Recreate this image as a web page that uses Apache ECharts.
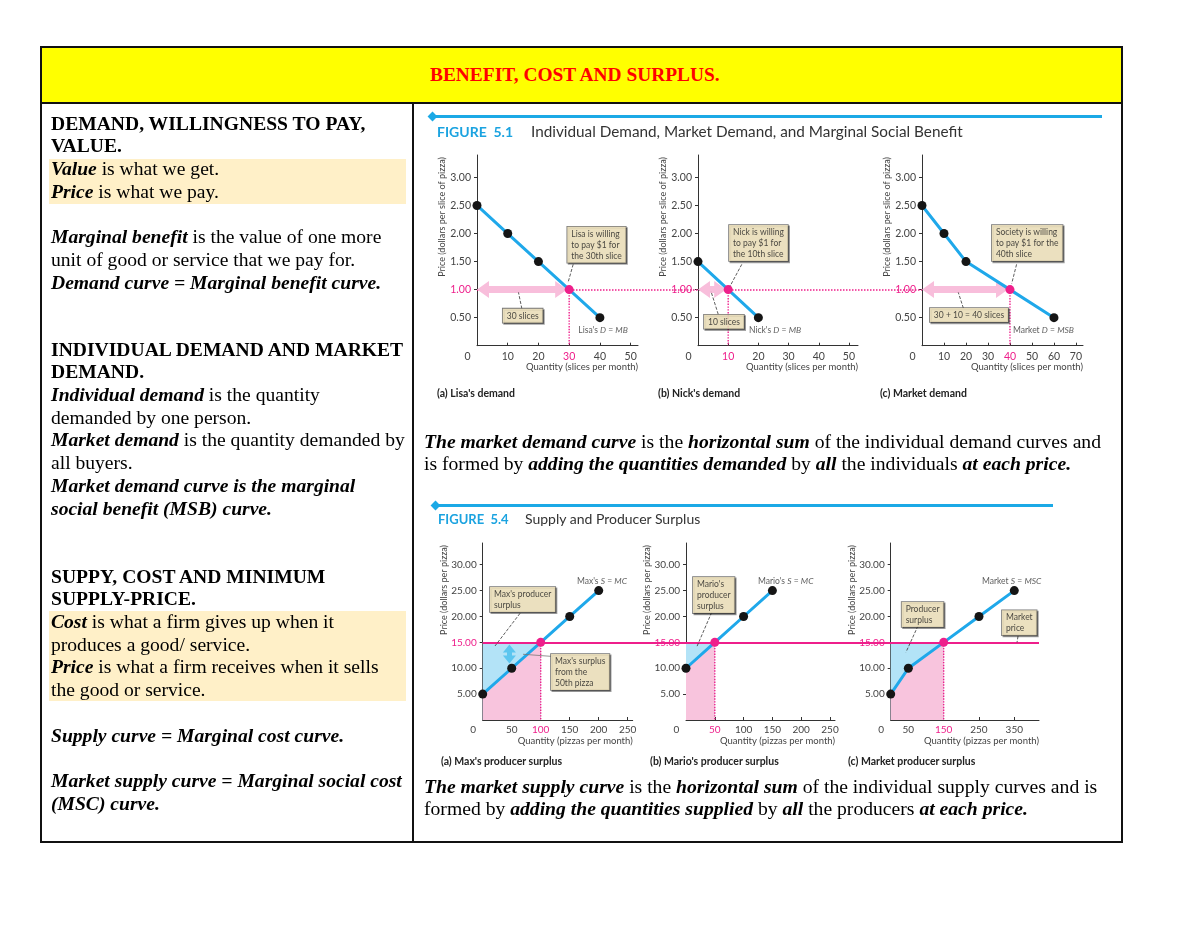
<!DOCTYPE html>
<html><head><meta charset="utf-8">
<script src="https://cdn.jsdelivr.net/npm/echarts@6/dist/echarts.min.js"></script>
<style>
body{margin:0;width:1200px;height:927px;position:relative;background:#fff;overflow:hidden;font-family:"Liberation Serif","Times New Roman",serif;}
#chart{position:absolute;left:0;top:0;width:1200px;height:927px;}
.abs{position:absolute;}
.txt{font-size:19.6px;line-height:22.7px;color:#000;white-space:nowrap;}
.hl{position:absolute;background:#fff0c8;}
.fig{position:absolute;font-family:Lato,"Open Sans",sans-serif;white-space:nowrap;}
.rule{position:absolute;height:3px;background:#1ba9e6;}
.dia{position:absolute;width:7px;height:7px;background:#1ba9e6;transform:rotate(45deg);}
.cap{position:absolute;font-family:Lato,sans-serif;font-weight:bold;font-size:10.5px;color:#222;white-space:nowrap;line-height:12px;}
</style></head>
<body>
<div id="chart"></div>

<!-- table frame -->
<div class="abs" style="left:40px;top:46px;width:1083px;height:797px;border:2px solid #111;box-sizing:border-box;"></div>
<div class="abs" style="left:42px;top:48px;width:1079px;height:54px;background:#ffff00;"></div>
<div class="abs" style="left:42px;top:102px;width:1079px;height:2px;background:#111;"></div>
<div class="abs" style="left:412px;top:104px;width:2px;height:737px;background:#111;"></div>
<div class="abs txt" style="left:430px;top:63.6px;color:#ff0000;font-weight:bold;font-size:19.4px;">BENEFIT, COST AND SURPLUS.</div>

<!-- left column -->
<div class="hl" style="left:49px;top:158.6px;width:357px;height:45.4px;"></div>
<div class="hl" style="left:49px;top:610.6px;width:357px;height:90.8px;"></div>
<div class="abs txt" style="left:51px;top:112.6px;">
<div><b>DEMAND, WILLINGNESS TO PAY,</b></div>
<div><b>VALUE.</b></div>
<div><b><i>Value</i></b> is what we get.</div>
<div><b><i>Price</i></b> is what we pay.</div>
<div>&nbsp;</div>
<div><b><i>Marginal benefit</i></b> is the value of one more</div>
<div>unit of good or service that we pay for.</div>
<div><b><i>Demand curve = Marginal benefit curve.</i></b></div>
</div>
<div class="abs txt" style="left:51px;top:338.6px;">
<div><b>INDIVIDUAL DEMAND AND MARKET</b></div>
<div><b>DEMAND.</b></div>
<div><b><i>Individual demand</i></b> is the quantity</div>
<div>demanded by one person.</div>
<div><b><i>Market demand</i></b> is the quantity demanded by</div>
<div>all buyers.</div>
<div><b><i>Market demand curve is the marginal</i></b></div>
<div><b><i>social benefit (MSB) curve.</i></b></div>
</div>
<div class="abs txt" style="left:51px;top:565.6px;">
<div><b>SUPPY, COST AND MINIMUM</b></div>
<div><b>SUPPLY-PRICE.</b></div>
<div><b><i>Cost</i></b> is what a firm gives up when it</div>
<div>produces a good/ service.</div>
<div><b><i>Price</i></b> is what a firm receives when it sells</div>
<div>the good or service.</div>
<div>&nbsp;</div>
<div><b><i>Supply curve = Marginal cost curve.</i></b></div>
<div>&nbsp;</div>
<div><b><i>Market supply curve = Marginal social cost</i></b></div>
<div><b><i>(MSC) curve.</i></b></div>
</div>

<!-- right column paragraphs -->
<div class="abs txt" style="left:424px;top:429.6px;font-size:19.65px;">
<div><b><i>The market demand curve</i></b> is the <b><i>horizontal sum</i></b> of the individual demand curves and</div>
<div>is formed by <b><i>adding the quantities demanded</i></b> by <b><i>all</i></b> the individuals <b><i>at each price.</i></b></div>
</div>
<div class="abs txt" style="left:424px;top:774.6px;font-size:19.65px;">
<div><b><i>The market supply curve</i></b> is the <b><i>horizontal sum</i></b> of the individual supply curves and is</div>
<div>formed by <b><i>adding the quantities supplied</i></b> by <b><i>all</i></b> the producers <b><i>at each price.</i></b></div>
</div>

<!-- figure headers -->
<div class="rule" style="left:434px;top:115px;width:668px;"></div>
<div class="dia" style="left:429px;top:113px;"></div>
<div class="fig" style="left:437px;top:123px;font-size:14px;font-weight:bold;color:#1ba3e0;">FIGURE&nbsp; 5.1</div>
<div class="fig" style="left:531px;top:122px;font-size:15.3px;color:#333;">Individual Demand, Market Demand, and Marginal Social Benefit</div>
<div class="cap" style="left:437px;top:387px;">(a) Lisa's demand</div>
<div class="cap" style="left:658px;top:387px;">(b) Nick's demand</div>
<div class="cap" style="left:880px;top:387px;">(c) Market demand</div>

<div class="rule" style="left:437px;top:504px;width:616px;"></div>
<div class="dia" style="left:432px;top:502px;"></div>
<div class="fig" style="left:438px;top:511px;font-size:13px;font-weight:bold;color:#1ba3e0;">FIGURE&nbsp; 5.4</div>
<div class="fig" style="left:525px;top:510px;font-size:14px;color:#333;">Supply and Producer Surplus</div>
<div class="cap" style="left:441px;top:755px;">(a) Max's producer surplus</div>
<div class="cap" style="left:650px;top:755px;">(b) Mario's producer surplus</div>
<div class="cap" style="left:848px;top:755px;">(c) Market producer surplus</div>

<script>
// ---------- DATA ----------
// Figure 5.1 : demand (price in dollars per slice, quantity in slices per month)
const lisaQty = [0, 10, 20, 30, 40];
const lisaPrice = [2.5, 2.0, 1.5, 1.0, 0.5];
const nickQty = [0, 10, 20];
const nickPrice = [1.5, 1.0, 0.5];
const marketDemandQty = [0, 10, 20, 40, 60];
const marketDemandPrice = [2.5, 2.0, 1.5, 1.0, 0.5];
const slicePrice = 1.0;
const lisaQtyAtPrice = 30;
const nickQtyAtPrice = 10;
const marketQtyAtPrice = 40;
const demandPriceTicks = [0.5, 1.0, 1.5, 2.0, 2.5, 3.0];
const lisaQtyTicks = [0, 10, 20, 30, 40, 50];
const nickQtyTicks = [0, 10, 20, 30, 40, 50];
const marketDemandQtyTicks = [0, 10, 20, 30, 40, 50, 60, 70];

// Figure 5.4 : supply (price in dollars per pizza, quantity in pizzas per month)
const maxQty = [0, 50, 100, 150, 200];
const maxCost = [5, 10, 15, 20, 25];
const marioQty = [0, 50, 100, 150];
const marioCost = [10, 15, 20, 25];
const marketSupplyQty = [0, 50, 150, 250, 350];
const marketSupplyCost = [5, 10, 15, 20, 25];
const pizzaPrice = 15;
const maxQtyAtPrice = 100;
const marioQtyAtPrice = 50;
const marketSupplyQtyAtPrice = 150;
const maxSurplusArrow = [46, 14.6, 10.9]; // quantity, top, bottom of the 50th-pizza surplus arrow
const supplyPriceTicks = [5, 10, 15, 20, 25, 30];
const maxQtyTicks = [0, 50, 100, 150, 200, 250];
const marioQtyTicks = [0, 50, 100, 150, 200, 250];
const marketSupplyQtyTicks = [0, 50, 150, 250, 350];

// ---------- STYLE ----------
const MAG = '#ee1f8b', BLUE = '#1fa8ea', DOT = '#151515', PINKARROW = '#f8bedb',
      AREA_BLUE = '#b3e3f7', AREA_PINK = '#f8c4dd', BOX = '#fdefc6', FONT = 'Lato';

const grids = [
  {left: 477, top: 155, width: 161, height: 190.7},   // 0 Lisa
  {left: 698, top: 155, width: 160, height: 190.7},   // 1 Nick
  {left: 922, top: 155, width: 161, height: 190.7},   // 2 Market demand
  {left: 477, top: 155, width: 445, height: 190.7},   // 3 overlay price line
  {left: 482.7, top: 543, width: 150, height: 177},   // 4 Max
  {left: 686, top: 543, width: 149, height: 177},     // 5 Mario
  {left: 890.7, top: 543, width: 148.3, height: 177}, // 6 Market supply
  {left: 482.7, top: 543, width: 556.3, height: 177}  // 7 overlay price line
];

const xAxes = [], yAxes = [], series = [], axisMax = [];

function addAxes(o) {
  axisMax[o.g] = {x: o.xmax, y: o.ymax};
  const fs = o.fs || 10.5;
  const lbl = {fontFamily: FONT, fontSize: fs, color: '#444'};
  xAxes.push({
    gridIndex: o.g, type: 'value', min: 0, max: o.xmax, show: o.show !== false,
    axisLine: {show: true, onZero: false, lineStyle: {color: '#333', width: 1}},
    axisTick: {show: true, inside: true, length: 3, customValues: (o.xticks || []).filter(v => v !== 0), lineStyle: {color: '#333'}},
    axisLabel: Object.assign({show: true, customValues: o.xticks || [], margin: 5,
      formatter: v => v === 0 ? '{z|0}' : (v === o.xhl ? '{m|' + v + '}' : String(v)),
      rich: {z: Object.assign({padding: [0, 19, 0, 0]}, lbl), m: Object.assign({}, lbl, {color: MAG})}}, lbl),
    splitLine: {show: false},
    name: o.xname || '', nameLocation: 'end', nameGap: 0, nameMoveOverlap: false,
    nameTextStyle: {fontFamily: FONT, fontSize: 9.5, color: '#444', align: 'right', verticalAlign: 'top', padding: [o.xnamePad || 16, 0, 0, 0]}
  });
  yAxes.push({
    gridIndex: o.g, type: 'value', min: 0, max: o.ymax, show: o.show !== false,
    axisLine: {show: true, onZero: false, lineStyle: {color: '#333', width: 1}},
    axisTick: {show: true, length: 3, customValues: o.yticks || [], lineStyle: {color: '#333'}},
    axisLabel: Object.assign({show: true, customValues: o.yticks || [], margin: 6,
      formatter: v => { const s = v.toFixed(2); return v === o.yhl ? '{m|' + s + '}' : s; },
      rich: {m: Object.assign({}, lbl, {color: MAG})}}, lbl),
    splitLine: {show: false},
    name: o.yname || '', nameLocation: 'end', nameRotate: 90, nameGap: -2, nameMoveOverlap: false,
    nameTextStyle: {fontFamily: FONT, fontSize: 9, color: '#444', align: 'right', verticalAlign: 'bottom', padding: [0, 0, o.ynamePad || 30, 0]}
  });
}

function pts(q, p) { return q.map((v, i) => [v, p[i]]); }

function curve(g, q, p, qEq) {
  series.push({
    type: 'line', xAxisIndex: g, yAxisIndex: g, z: 6, silent: true,
    data: q.map((v, i) => v === qEq ? {value: [v, p[i]], itemStyle: {color: MAG}} : [v, p[i]]),
    symbol: 'circle', symbolSize: 9, itemStyle: {color: DOT},
    lineStyle: {color: BLUE, width: 3}
  });
}

function dropLine(g, qEq, pEq) {
  series.push({
    type: 'line', xAxisIndex: g, yAxisIndex: g, z: 3, silent: true, symbol: 'none',
    data: [[qEq, pEq], [qEq, 0]], lineStyle: {color: MAG, width: 1.4, type: 'dotted'}
  });
}

// double-headed arrow whose tips land on `from` and `to` (heads are centred on line ends,
// so the ends are pulled in by half a head plus an optional gap, converted to data units)
function arrow(g, from, to, color, width, size, gapStart, gapEnd) {
  const gr = grids[g], m = axisMax[g];
  const ux = m.x / gr.width, uy = m.y / gr.height;
  const dxp = (to[0] - from[0]) / ux, dyp = (to[1] - from[1]) / uy;
  const len = Math.hypot(dxp, dyp), cx = dxp / len, cy = dyp / len;
  const half = size[1] / 2;
  const s0 = half + (gapStart || 0), s1 = half + (gapEnd || 0);
  const a = [from[0] + cx * s0 * ux, from[1] + cy * s0 * uy];
  const b = [to[0] - cx * s1 * ux, to[1] - cy * s1 * uy];
  series.push({
    type: 'line', xAxisIndex: g, yAxisIndex: g, z: 2, silent: true, data: [],
    markLine: {silent: true, animation: false, symbol: ['triangle', 'triangle'], symbolSize: size,
      lineStyle: {color: color, width: width, type: 'solid', opacity: 1}, label: {show: false},
      emphasis: {disabled: true},
      data: [[{coord: a}, {coord: b}]]}
  });
}

function note(g, x, y, text) {
  series.push({
    type: 'scatter', xAxisIndex: g, yAxisIndex: g, z: 8, silent: true, symbolSize: 0.1,
    itemStyle: {color: 'transparent'},
    data: [{value: [x, y]}],
    label: {show: true, position: [0, 0], align: 'left', verticalAlign: 'top', formatter: text,
      fontFamily: FONT, fontSize: 8.5, lineHeight: 11, color: '#222', backgroundColor: BOX,
      borderColor: '#555', borderWidth: 0.8, padding: [2, 4, 1, 4],
      shadowColor: 'rgba(0,0,0,0.45)', shadowOffsetX: 1.3, shadowOffsetY: 1.3, shadowBlur: 0}
  });
}

function curveName(g, x, y, text) {
  series.push({
    type: 'scatter', xAxisIndex: g, yAxisIndex: g, z: 8, silent: true, symbolSize: 0.1,
    itemStyle: {color: 'transparent'},
    data: [{value: [x, y]}],
    label: {show: true, position: [0, 0], align: 'left', verticalAlign: 'middle', formatter: text,
      fontFamily: FONT, fontSize: 8.5, color: '#333',
      rich: {i: {fontStyle: 'italic', fontFamily: FONT, fontSize: 8.5, color: '#333'}}}
  });
}

function leader(g, a, b, solid) {
  series.push({
    type: 'line', xAxisIndex: g, yAxisIndex: g, z: 7, silent: true, symbol: 'none',
    data: [a, b], lineStyle: {color: solid ? '#777' : '#333', width: 0.8, type: solid ? 'solid' : 'dashed'}
  });
}

function surplusAreas(g, q, c, qEq, pEq) {
  series.push({
    type: 'line', xAxisIndex: g, yAxisIndex: g, z: 1, silent: true, symbol: 'none',
    data: [[0, pEq], [qEq, pEq]], lineStyle: {width: 0}, areaStyle: {color: AREA_BLUE, opacity: 1}
  });
  series.push({
    type: 'line', xAxisIndex: g, yAxisIndex: g, z: 1, silent: true, symbol: 'none',
    data: pts(q, c).filter(d => d[0] <= qEq), lineStyle: {width: 0}, areaStyle: {color: AREA_PINK, opacity: 1}
  });
}

function priceLine(g, price, dotted) {
  series.push({
    type: 'line', xAxisIndex: g, yAxisIndex: g, z: dotted ? 4 : 2, silent: true, data: [],
    markLine: {silent: true, animation: false, symbol: 'none', label: {show: false},
      lineStyle: {color: MAG, width: dotted ? 1.5 : 2, type: dotted ? 'dotted' : 'solid', opacity: 1},
      emphasis: {disabled: true},
      data: [{yAxis: price}]}
  });
}

// ---------- Figure 5.1 ----------
const yNameD = 'Price (dollars per slice of pizza)';
const xNameD = 'Quantity (slices per month)';
addAxes({g: 0, xmax: 52.4, ymax: 3.4, xticks: lisaQtyTicks, yticks: demandPriceTicks, xhl: lisaQtyAtPrice, yhl: slicePrice, yname: yNameD, xname: xNameD});
addAxes({g: 1, xmax: 53, ymax: 3.4, xticks: nickQtyTicks, yticks: demandPriceTicks, xhl: nickQtyAtPrice, yhl: slicePrice, yname: yNameD, xname: xNameD});
addAxes({g: 2, xmax: 73.2, ymax: 3.4, xticks: marketDemandQtyTicks, yticks: demandPriceTicks, xhl: marketQtyAtPrice, yhl: slicePrice, yname: yNameD, xname: xNameD});
addAxes({g: 3, xmax: 1, ymax: 3.4, show: false});

priceLine(3, slicePrice, true);

// Lisa
arrow(0, [0, slicePrice], [lisaQtyAtPrice, slicePrice], PINKARROW, 7, [17, 12], 0, 2);
dropLine(0, lisaQtyAtPrice, slicePrice);
curve(0, lisaQty, lisaPrice, lisaQtyAtPrice);
note(0, 29.4, 2.12, 'Lisa is willing\nto pay $1 for\nthe 30th slice');
leader(0, [31.3, 1.45], [29.6, 1.12]);
note(0, 8.4, 0.66, '30 slices');
leader(0, [14.6, 0.66], [13.5, 0.95]);
curveName(0, 33, 0.28, "Lisa's {i|D} = {i|MB}");

// Nick
arrow(1, [0, slicePrice], [nickQtyAtPrice, slicePrice], PINKARROW, 7, [17, 12], 0, 2);
dropLine(1, nickQtyAtPrice, slicePrice);
curve(1, nickQty, nickPrice, nickQtyAtPrice);
note(1, 10.3, 2.15, 'Nick is willing\nto pay $1 for\nthe 10th slice');
leader(1, [14.5, 1.45], [10.6, 1.06]);
note(1, 2.0, 0.55, '10 slices');
leader(1, [6.7, 0.56], [4.3, 0.97]);
curveName(1, 16.9, 0.28, "Nick's {i|D} = {i|MB}");

// Market
arrow(2, [0, slicePrice], [marketQtyAtPrice, slicePrice], PINKARROW, 7, [17, 12], 0, 2);
dropLine(2, marketQtyAtPrice, slicePrice);
curve(2, marketDemandQty, marketDemandPrice, marketQtyAtPrice);
note(2, 31.8, 2.15, 'Society is willing\nto pay $1 for the\n40th slice');
leader(2, [43.0, 1.45], [40.8, 1.11]);
note(2, 3.6, 0.67, '30 + 10 = 40 slices');
leader(2, [18.8, 0.67], [16.5, 0.95]);
curveName(2, 41.4, 0.28, 'Market {i|D} = {i|MSB}');

// ---------- Figure 5.4 ----------
const yNameS = 'Price (dollars per pizza)';
const xNameS = 'Quantity (pizzas per month)';
addAxes({g: 4, xmax: 258.6, ymax: 34.2, xticks: maxQtyTicks, yticks: supplyPriceTicks, xhl: maxQtyAtPrice, yhl: pizzaPrice, yname: yNameS, xname: xNameS, ynamePad: 34, fs: 10});
addAxes({g: 5, xmax: 258.7, ymax: 34.2, xticks: marioQtyTicks, yticks: supplyPriceTicks, xhl: marioQtyAtPrice, yhl: pizzaPrice, yname: yNameS, xname: xNameS, ynamePad: 34, fs: 10});
addAxes({g: 6, xmax: 420, ymax: 34.2, xticks: marketSupplyQtyTicks, yticks: supplyPriceTicks, xhl: marketSupplyQtyAtPrice, yhl: pizzaPrice, yname: yNameS, xname: xNameS, ynamePad: 34, fs: 10});
addAxes({g: 7, xmax: 1, ymax: 34.2, show: false});

// Max
surplusAreas(4, maxQty, maxCost, maxQtyAtPrice, pizzaPrice);
dropLine(4, maxQtyAtPrice, pizzaPrice);
arrow(4, [maxSurplusArrow[0], maxSurplusArrow[1]], [maxSurplusArrow[0], maxSurplusArrow[2]], '#5cc6ef', 5, [13, 8], 0, 0);
curve(4, maxQty, maxCost, maxQtyAtPrice);
note(4, 12.6, 25.7, "Max's producer\nsurplus");
leader(4, [64.3, 20.6], [21.2, 14.3]);
note(4, 117.8, 12.74, "Max's surplus\nfrom the\n50th pizza");
leader(4, [117.8, 12.3], [69.5, 12.7], true);
curveName(4, 162.6, 26.8, "Max's {i|S} = {i|MC}");

// Mario
surplusAreas(5, marioQty, marioCost, marioQtyAtPrice, pizzaPrice);
dropLine(5, marioQtyAtPrice, pizzaPrice);
curve(5, marioQty, marioCost, marioQtyAtPrice);
note(5, 12.2, 27.6, "Mario's\nproducer\nsurplus");
leader(5, [44.6, 20.8], [18.6, 14.1]);
curveName(5, 125, 26.8, "Mario's {i|S} = {i|MC}");

// Market
surplusAreas(6, marketSupplyQty, marketSupplyCost, marketSupplyQtyAtPrice, pizzaPrice);
dropLine(6, marketSupplyQtyAtPrice, pizzaPrice);
curve(6, marketSupplyQty, marketSupplyCost, marketSupplyQtyAtPrice);
note(6, 31.2, 22.8, 'Producer\nsurplus');
leader(6, [77.3, 18.2], [43.3, 13.1]);
note(6, 315.3, 21.2, 'Market\nprice');
leader(6, [360.6, 16.2], [357.8, 15.0]);
curveName(6, 258.6, 26.8, 'Market {i|S} = {i|MSC}');

priceLine(7, pizzaPrice, false);

const chart = echarts.init(document.getElementById('chart'), null, {renderer: 'canvas'});
chart.setOption({
  animation: false,
  backgroundColor: 'transparent',
  grid: grids,
  xAxis: xAxes,
  yAxis: yAxes,
  series: series
});
</script>
</body></html>
